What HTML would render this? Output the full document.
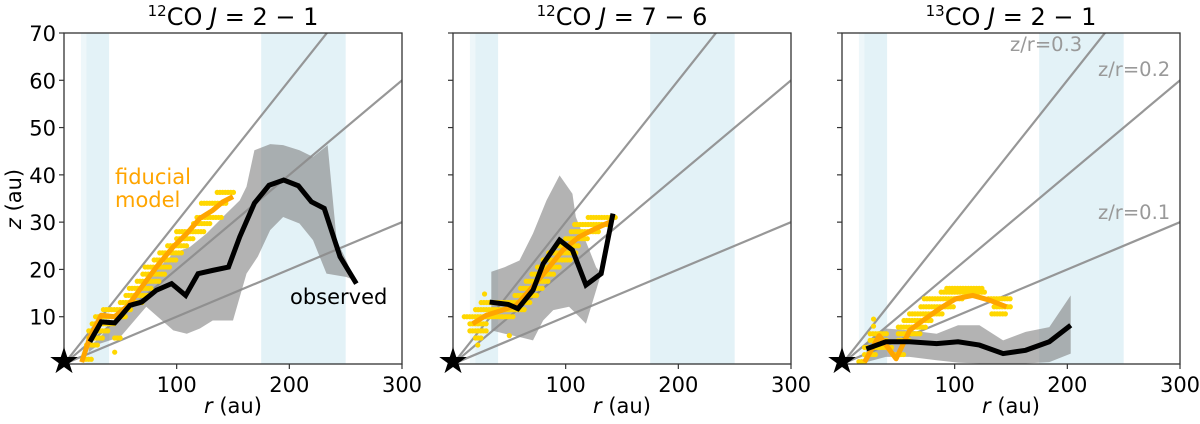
<!DOCTYPE html>
<html><head><meta charset="utf-8"><style>
body{margin:0;background:#fff;width:1200px;height:419px;overflow:hidden}
svg{font-family:"DejaVu Sans","Liberation Sans",sans-serif}
</style></head><body>
<svg id="c" width="1200" height="419" xmlns="http://www.w3.org/2000/svg"></svg>
<script>
const xTicks=[100,200,300];
const yTicks=[10,20,30,40,50,60,70];
const slopes=[0.1,0.2,0.3];
const bands=[[15,40,'#eef7fa'],[20,40,'#e3f2f7'],[175,250,'#e3f2f7']];
const titles=['12CO|J = 2 − 1','12CO|J = 7 − 6','13CO|J = 2 − 1'];
const obs1=[[23,4.7],[33,8.9],[45,8.7],[51,10.3],[58.5,12.4],[69,13.1],[82,15.6],[95.5,17],[108,14.5],[119,19.1],[132,19.8],[146,20.5],[156,26.9],[169,34],[182,37.8],[195,38.9],[208,37.7],[219.6,34.3],[231,32.9],[245,22.7],[259.5,17]];
const up1=[[22,3.5],[32,5.7],[45,9.2],[73,17.7],[97,23.4],[112,24.8],[126.5,27.6],[144,31.8],[156,34.6],[162,37.5],[169,45.2],[183,46.5],[194.5,46.3],[209,45.2],[221,43.8],[234,46.3],[242,26.2],[250.6,21.9],[258,17.7]];
const lo1=[[258,17.7],[250.6,18.4],[233,19.1],[221,26.2],[209,29.7],[194.5,31.1],[183,28.3],[172,22.7],[162,19.1],[150,9.2],[132,9.2],[120.6,7.5],[109,6.4],[97,7.1],[73,12.1],[50,5.7],[32,4.3],[22,2.5]];
const fid1=[[15.7,0.4],[23,5.7],[33,10.3],[45,10],[57,12.4],[69,16.3],[82,20.5],[97,24.8],[109,27.6],[120.6,30.8],[132,32.5],[141,34.3],[150,35.4]];
const dots1=[[136,152,36.3],[122,145,34],[118,140,31],[115,130,29.7],[100,125,28],[100,115,26.5],[92,110,25],[85,105,23.5],[80,100,22],[72,95,20.5],[70,90,19],[65,85,17.5],[58,78,16],[55,75,14.5],[50,70,13],[35,60,11.5],[28,55,10],[25,45,8.5],[22,40,7],[22,35,5.5],[45,50,5.5],[20,30,4],[45,46,2.5],[17,25,1]];
const obs2=[[32.5,13.1],[49,12.6],[57.6,11.7],[71,15.6],[80,21.2],[94.6,26.2],[106,24.1],[118,16.7],[131.5,19.1],[142,31.8]];
const up2=[[34,19.5],[46,20.5],[59,21.9],[71,27.6],[83,34.6],[94.6,39.9],[106,36],[109,31.1],[115,27.6],[121,24.1],[127,20.5],[131.5,19.1]];
const lo2=[[131.5,19.1],[118,8.5],[112,10],[103,12.1],[89,11.4],[80,9.2],[71,5],[59,5.7],[46,6.4],[34,7.1]];
const fid2=[[17.4,8.5],[29.6,10.3],[44,11.4],[56,12.4],[68,15.6],[83,19.8],[97.5,24.1],[112,26.9],[127,28.7],[140,30.1]];
const dots2=[[120,145,31],[108,140,29.5],[105,130,28],[100,120,26.5],[92,112,25],[85,110,23.5],[80,105,22],[75,95,20.5],[70,90,19],[65,85,17.5],[60,80,16],[55,75,14.5],[25,70,13],[20,65,11.5],[10,55,10],[15,30,8.5],[15,30,7],[20,25,5.5],[22,24,4],[28,28,14.8],[50,50,6]];
const obs3=[[21.6,3.2],[39,4.7],[60,4.7],[84,4.3],[103,4.7],[122,4],[143,2.2],[163,2.9],[184,4.7],[203,8.2]];
const up3=[[21.6,4.3],[39,7.5],[60,7.1],[84,6.4],[103,8.2],[122,8.2],[143,5],[163,6.8],[184,7.8],[203,14.5]];
const lo3=[[203,2.2],[184,0.4],[163,0.1],[143,0.1],[122,0.1],[103,0.3],[84,0.8],[60,1.5],[39,1.5],[21.6,0.4]];
const fid3=[[20,0.4],[33,6],[48,1.1],[60,7.1],[71.8,9.2],[86.6,11.7],[101,13.8],[116,14.5],[131,13.5],[146,12.1]];
const dots3=[[93,125,16],[88,127,15.2],[73,108,13.8],[130,150,13.8],[70,100,12.1],[135,150,12.1],[60,90,10.6],[133,145,10.6],[55,80,9.2],[50,75,7.8],[25,40,6.4],[50,70,6.4],[25,40,5],[50,60,5],[20,45,3.5],[20,30,2],[45,55,2],[15,22,0.5],[28,28,9.5],[28,28,8]];
const panels=[{l:64,obs:obs1,up:up1,lo:lo1,fid:fid1,dots:dots1},{l:453,obs:obs2,up:up2,lo:lo2,fid:fid2,dots:dots2},{l:842,obs:obs3,up:up3,lo:lo3,fid:fid3,dots:dots3}];
const W=338,T=33,B=364,NS='http://www.w3.org/2000/svg';
const svg=document.getElementById('c');
function mk(tag,at,parent,txt){const e=document.createElementNS(NS,tag);for(const k in at)e.setAttribute(k,at[k]);if(txt!=null)e.textContent=txt;(parent||svg).appendChild(e);return e;}
panels.forEach((p,i)=>{
  const X=r=>p.l+r/300*W, Y=z=>B-z/70*(B-T);
  const g=mk('g',{});
  
  
  const cp=mk('clipPath',{id:'cp'+i},g);mk('rect',{x:p.l,y:T,width:W,height:B-T},cp);
  const pg=mk('g',{'clip-path':'url(#cp'+i+')'},g);
  bands.forEach(b=>{const e=mk('rect',{x:X(b[0]),y:T,width:X(b[1])-X(b[0]),height:B-T,fill:b[2]},pg);
    
    });
  const poly=p.up.concat(p.lo).map(d=>X(d[0])+','+Y(d[1])).join(' ');
  const band=mk('polygon',{points:poly,fill:'#808080','fill-opacity':0.6},pg);
  
  
  slopes.forEach(s=>{const e=mk('line',{x1:X(0),y1:Y(0),x2:X(300),y2:Y(300*s),stroke:'#8c8c8c','stroke-width':2.2,'stroke-opacity':0.9},pg);
    
    });
  p.dots.forEach(d=>{for(let r=d[0];r<=d[1]+0.01;r+=2.4){const c=mk('circle',{cx:X(r),cy:Y(d[2]),r:2.6,fill:'#ffd700'},pg);
    
    }});
  const f=mk('polyline',{points:p.fid.map(d=>X(d[0])+','+Y(d[1])).join(' '),fill:'none',stroke:'#ffa500','stroke-width':5,'stroke-linejoin':'round'},pg);
  
  
  const o=mk('polyline',{points:p.obs.map(d=>X(d[0])+','+Y(d[1])).join(' '),fill:'none',stroke:'#000','stroke-width':5,'stroke-linejoin':'miter'},pg);
  
  
  const fr=mk('rect',{x:p.l,y:T,width:W,height:B-T,fill:'none',stroke:'#333','stroke-width':1.3},g);
  
  
  xTicks.forEach(t=>{mk('line',{x1:X(t),y1:B,x2:X(t),y2:B+5,stroke:'#333','stroke-width':1.2},g);
    const e=mk('text',{x:X(t),y:B+28,'font-size':21,'text-anchor':'middle'},g,t);
    
    });
  yTicks.forEach(t=>{mk('line',{x1:p.l-5,y1:Y(t),x2:p.l,y2:Y(t),stroke:'#333','stroke-width':1.2},g);
    if(i==0){const e=mk('text',{x:p.l-8,y:Y(t)+8,'font-size':21,'text-anchor':'end'},g,t);
    
    }});
  const xl=mk('text',{x:p.l+W/2,y:413,'font-size':21,'text-anchor':'middle'},g);
  mk('tspan',{'font-style':'italic'},xl,'r');mk('tspan',{},xl,' (au)');
  
  
  const tp=titles[i].split('|');
  const tt=mk('text',{x:p.l+W/2,y:25,'font-size':24,'text-anchor':'middle'},g);
  mk('tspan',{'font-size':15,dy:-9},tt,tp[0].slice(0,2));
  mk('tspan',{dy:9},tt,tp[0].slice(2)+' ');
  mk('tspan',{'font-style':'italic'},tt,'J');
  mk('tspan',{},tt,tp[1].slice(1));
  
  
  const st=mk('text',{x:X(0),y:Y(0)+9,'font-size':36,'text-anchor':'middle'},g,'★');
  
  
});
const yl=mk('text',{transform:'translate(21,199) rotate(-90)','font-size':21,'text-anchor':'middle'});
mk('tspan',{'font-style':'italic'},yl,'z');mk('tspan',{},yl,' (au)');


const labs=[['fiducial',115,184,'#ffa500','fiducial-label'],['model',115,207,'#ffa500','model-label'],['observed',290,304,'#000','observed-label'],['z/r=0.3',1010,51,'#999','slope-label-0.3'],['z/r=0.2',1098,76,'#999','slope-label-0.2'],['z/r=0.1',1098,219,'#999','slope-label-0.1']];
labs.forEach(a=>{const e=mk('text',{x:a[1],y:a[2],'font-size':a[0].startsWith('z')?19.5:21,fill:a[3]},svg,a[0]);
  
  });
</script>
</body></html>
